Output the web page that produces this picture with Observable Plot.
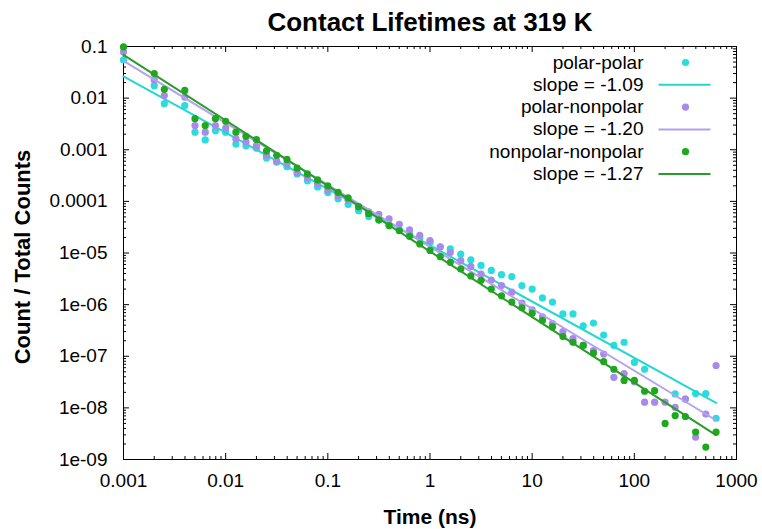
<!DOCTYPE html>
<html><head><meta charset="utf-8">
<script src="https://cdn.jsdelivr.net/npm/d3@7"></script>
<script src="https://cdn.jsdelivr.net/npm/@observablehq/plot@0.6"></script>
<style>
body{margin:0;background:#fff;}
svg{font-family:"Liberation Sans", Arial, Helvetica, sans-serif;}
</style>
</head><body><div id="chart"></div>
<script>
// Bin times (ns), log-spaced bins
const binTime = [0.001, 0.002, 0.00251, 0.00398, 0.00501, 0.00631, 0.00794, 0.01, 0.0126, 0.0158, 0.02, 0.0251, 0.0316, 0.0398, 0.0501, 0.0631, 0.0794, 0.1, 0.126, 0.158, 0.2, 0.251, 0.316, 0.398, 0.501, 0.631, 0.794, 1, 1.26, 1.58, 2, 2.51, 3.16, 3.98, 5.01, 6.31, 7.94, 10, 12.6, 15.8, 20, 25.1, 31.6, 39.8, 50.1, 63.1, 79.4, 100, 126, 158, 200, 251, 316, 398, 501, 631];

const polarPolar = [5.5e-2, 1.74e-2, 7.8e-3, 7.2e-3, 2.19e-3, 1.55e-3, 2.34e-3, 2.19e-3, 1.29e-3, 1.2e-3, 1.07e-3, 6.9e-4, 5.75e-4, 4.7e-4, 3.4e-4,
  2.5e-4, 1.9e-4, 1.48e-4, 1.12e-4, 8.7e-5, 6.6e-5, 5.1e-5, 4.3e-5, 3.4e-5, 2.8e-5, 2.34e-5, 1.95e-5,
  1.62e-5, 1.3e-5, 1.2e-5, 9.5e-6, 7.4e-6, 5.75e-6, 4.6e-6, 3.8e-6, 3.5e-6, 2.34e-6, 2.0e-6, 1.35e-6, 1.12e-6, 6.6e-7, 6.6e-7, 3.9e-7, 4.4e-7, 2.57e-7, 1.62e-7, 1.86e-7, 7.6e-8, 5.6e-8, null, null, 1.86e-8, 1.48e-8, 1.9e-8, 1.9e-8, 6.3e-9];

const polarNonpolar = [7.8e-2, 2.24e-2, 1.12e-2, 1.05e-2, 2.95e-3, 2.19e-3, 2.95e-3, 2.63e-3, 1.62e-3, 1.41e-3, 1.2e-3, 7.8e-4, 6.0e-4, 5.4e-4, 3.6e-4,
  2.9e-4, 2.2e-4, 1.66e-4, 1.29e-4, 1.05e-4, 7.8e-5, 6.3e-5, 5.6e-5, 4.6e-5, 3.6e-5, 2.8e-5, 2.2e-5,
  1.74e-5, 1.32e-5, 1.02e-5, 7.1e-6, 5.5e-6, 3.9e-6, 3.0e-6, 2.34e-6, 1.74e-6, 1.07e-6, 7.9e-7, 5.8e-7, 4.3e-7, 3.0e-7, 2.19e-7, 1.62e-7, 1.29e-7, 1.1e-7, 3.9e-8, 4.6e-8, 3.2e-8, 1.29e-8, 1.29e-8, 1.29e-8, 1.02e-8, 1.48e-8, 2.7e-9, 7.6e-9, 6.6e-8];

const nonpolarNonpolar = [9.8e-2, 3.0e-2, 1.48e-2, 1.41e-2, 4.0e-3, 2.95e-3, 4.0e-3, 3.55e-3, 2.19e-3, 1.82e-3, 1.58e-3, 9.5e-4, 7.8e-4, 6.5e-4, 4.4e-4,
  3.4e-4, 2.6e-4, 2.0e-4, 1.5e-4, 1.17e-4, 7.9e-5, 5.8e-5, 4.4e-5, 3.4e-5, 2.7e-5, 2.1e-5, 1.5e-5,
  1.12e-5, 8.5e-6, 6.6e-6, 4.9e-6, 3.6e-6, 2.95e-6, 2.0e-6, 1.48e-6, 1.12e-6, 8.7e-7, 6.8e-7, 4.9e-7, 3.7e-7, 2.4e-7, 1.86e-7, 1.62e-7, 1.15e-7, 7.9e-8, 5.6e-8, 3.4e-8, 3.4e-8, 2.1e-8, 2.15e-8, 5.0e-9, 7.1e-9, 6.8e-9, 3.4e-9, 1.74e-9, 3.4e-9];

// Power-law fits: y = amplitude * x^slope
const seriesNames = ["polar-polar", "polar-nonpolar", "nonpolar-nonpolar"];
const fitSlopes = [-1.09, -1.20, -1.27];
const fitAmplitudes = [1.41e-5, 1.32e-5, 1.07e-5];
const fitLabels = ["slope = -1.09", "slope = -1.20", "slope = -1.27"];
const pointColors = ["#2adcdc", "#a98aea", "#1caa1c"];
const lineColors = ["#22d8d0", "#b4a2ee", "#2a9c2a"];

const xTicks = [0.001, 0.01, 0.1, 1, 10, 100, 1000];
const xTickLabels = ["0.001", "0.01", "0.1", "1", "10", "100", "1000"];
const yTicks = [1e-9, 1e-8, 1e-7, 1e-6, 1e-5, 1e-4, 1e-3, 1e-2, 1e-1];
const yTickLabels = ["1e-09", "1e-08", "1e-07", "1e-06", "1e-05", "0.0001", "0.001", "0.01", "0.1"];

const seriesValues = [polarPolar, polarNonpolar, nonpolarNonpolar];
const points = seriesValues.map((vals, s) =>
  binTime.map((t, i) => ({t, v: vals[i], s})).filter(d => d.v != null));
const fitRange = [binTime[0], binTime[binTime.length - 1]];
const fits = fitSlopes.map((m, s) => fitRange.map(t => ({t, v: fitAmplitudes[s] * Math.pow(t, m)})));

const minorX = [], minorY = [];
for (let e = -3; e < 3; e++) for (let k = 2; k <= 9; k++) minorX.push(k * Math.pow(10, e));
for (let e = -9; e < -1; e++) for (let k = 2; k <= 9; k++) minorY.push(k * Math.pow(10, e));

const W = 762, H = 529, mL = 123, mR = 26, mT = 46, mB = 70;
const fw = W - mL - mR, fh = H - mT - mB;
const major = 6, minor = 3;

const lineSymbol = {draw(ctx) { ctx.moveTo(-26, 0); ctx.lineTo(26, 0); }};

const marks = [
  Plot.frame({stroke: "black", strokeWidth: 1}),
  // inward ticks on all four sides
  Plot.tickX(xTicks, {x: d => d, insetTop: fh - major, stroke: "black"}),
  Plot.tickX(xTicks, {x: d => d, insetBottom: fh - major, stroke: "black"}),
  Plot.tickX(minorX, {x: d => d, insetTop: fh - minor, stroke: "black"}),
  Plot.tickX(minorX, {x: d => d, insetBottom: fh - minor, stroke: "black"}),
  Plot.tickY(yTicks, {y: d => d, insetRight: fw - major, stroke: "black"}),
  Plot.tickY(yTicks, {y: d => d, insetLeft: fw - major, stroke: "black"}),
  Plot.tickY(minorY, {y: d => d, insetRight: fw - minor, stroke: "black"}),
  Plot.tickY(minorY, {y: d => d, insetLeft: fw - minor, stroke: "black"}),
  Plot.axisX(xTicks, {tickSize: 0, tickPadding: 14, fontSize: 19, label: null,
    tickFormat: d => xTickLabels[xTicks.indexOf(d)]}),
  Plot.axisY(yTicks, {tickSize: 0, tickPadding: 16, fontSize: 19, label: null,
    tickFormat: d => yTickLabels[yTicks.indexOf(d)]})
];

for (let s = 0; s < 3; s++) {
  marks.push(Plot.dot(points[s], {x: "t", y: "v", r: 3.6, fill: pointColors[s], stroke: "none"}));
  marks.push(Plot.line(fits[s], {x: "t", y: "v", stroke: lineColors[s], strokeWidth: 2}));
}

// legend
for (let s = 0; s < 3; s++) {
  const dy1 = 16 + 44.6 * s, dy2 = dy1 + 22.3;
  marks.push(Plot.text([seriesNames[s]], {frameAnchor: "top-right", dx: -93, dy: dy1, textAnchor: "end", lineAnchor: "middle", fontSize: 19}));
  marks.push(Plot.dot([0], {frameAnchor: "top-right", dx: -51, dy: dy1, r: 3.6, fill: pointColors[s], stroke: "none"}));
  marks.push(Plot.text([fitLabels[s]], {frameAnchor: "top-right", dx: -93, dy: dy2, textAnchor: "end", lineAnchor: "middle", fontSize: 19}));
  marks.push(Plot.dot([0], {frameAnchor: "top-right", dx: -52, dy: dy2, symbol: lineSymbol, stroke: lineColors[s], strokeWidth: 2, fill: "none"}));
}

// titles
marks.push(Plot.text(["Contact Lifetimes at 319 K"], {frameAnchor: "top", dy: -24, lineAnchor: "middle", textAnchor: "middle", fontSize: 26, fontWeight: "bold"}));
marks.push(Plot.text(["Time (ns)"], {frameAnchor: "bottom", dy: 58, lineAnchor: "middle", textAnchor: "middle", fontSize: 21, fontWeight: "bold"}));
marks.push(Plot.text(["Count / Total Counts"], {frameAnchor: "left", dx: -101, dy: 4, rotate: -90, lineAnchor: "middle", textAnchor: "middle", fontSize: 22, fontWeight: "bold"}));

const chart = Plot.plot({
  width: W, height: H,
  marginLeft: mL, marginRight: mR, marginTop: mT, marginBottom: mB,
  style: {background: "white", color: "black", fontFamily: "'Liberation Sans', Arial, sans-serif"},
  x: {type: "log", domain: [0.001, 1000], axis: null},
  y: {type: "log", domain: [1e-9, 0.1], axis: null},
  marks
});
document.getElementById("chart").appendChild(chart);
</script>
</body></html>
